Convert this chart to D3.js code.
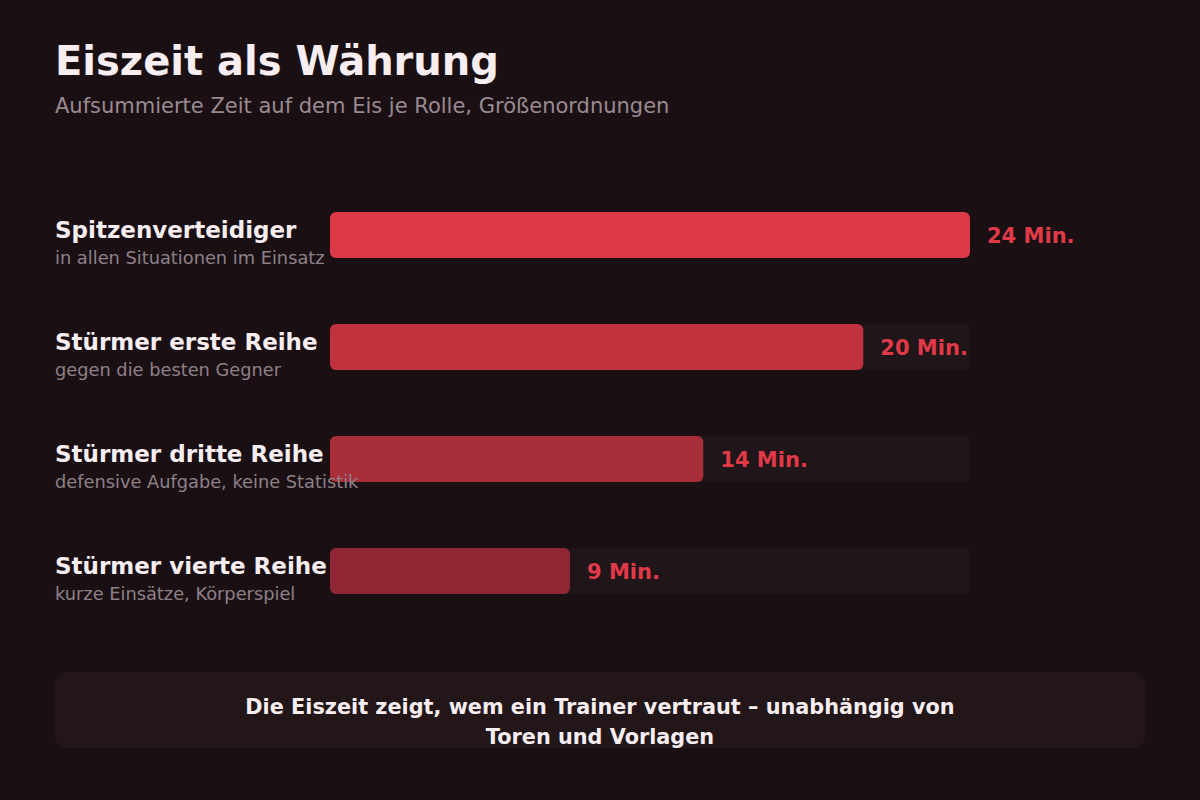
<!DOCTYPE html>
<html><head><meta charset="utf-8">
<script src="https://cdn.jsdelivr.net/npm/d3@7"></script>
<style>
html,body{margin:0;padding:0;background:#1a1014;}
svg{display:block;font-family:"DejaVu Sans",sans-serif;}
</style></head>
<body><svg id="c" width="1200" height="800"></svg>
<script>
const roles = ["Spitzenverteidiger","Stürmer erste Reihe","Stürmer dritte Reihe","Stürmer vierte Reihe"];
const notes = ["in allen Situationen im Einsatz","gegen die besten Gegner","defensive Aufgabe, keine Statistik","kurze Einsätze, Körperspiel"];
const minutes = [24,20,14,9];
const barColors = ["#dc3947","#c1323f","#a72e39","#8e2733"];
const titleText = "Eiszeit als Währung";
const subtitleText = "Aufsummierte Zeit auf dem Eis je Rolle, Größenordnungen";
const footerText = "Die Eiszeit zeigt, wem ein Trainer vertraut – unabhängig von Toren und Vorlagen";

const svg = d3.select("#c");
svg.append("rect").attr("width",1200).attr("height",800).attr("fill","#1a1014");

svg.append("text").attr("x",55).attr("y",75).attr("fill","#f8eef1")
  .attr("font-size",40).attr("font-weight","bold").text(titleText);
svg.append("text").attr("x",55).attr("y",113).attr("fill","#9a8a90")
  .attr("font-size",21).text(subtitleText);

const x = d3.scaleLinear().domain([0, d3.max(minutes)]).range([330, 970]);
const y = d3.scaleBand().domain(roles).range([212, 594]).paddingInner(66/112).paddingOuter(0);
const data = roles.map((r,i)=>({role:r, note:notes[i], v:minutes[i], c:barColors[i]}));
const bh = y.bandwidth();

const g = svg.append("g");
g.selectAll("rect.track").data(data).join("rect").attr("class","track")
  .attr("x",x(0)).attr("y",d=>y(d.role)).attr("width",x.range()[1]-x(0)).attr("height",bh)
  .attr("rx",6).attr("fill","#201518");
g.selectAll("rect.bar").data(data).join("rect").attr("class","bar")
  .attr("x",x(0)).attr("y",d=>y(d.role)).attr("width",d=>x(d.v)-x(0)).attr("height",bh)
  .attr("rx",6).attr("fill",d=>d.c);
g.selectAll("text.val").data(data).join("text").attr("class","val")
  .attr("x",d=>x(d.v)+17).attr("y",d=>y(d.role)+bh/2+8)
  .attr("fill","#e03a48").attr("font-size",21).attr("font-weight","bold")
  .text(d=>d.v+" Min.");
g.selectAll("text.name").data(data).join("text").attr("class","name")
  .attr("x",55).attr("y",d=>y(d.role)+26)
  .attr("fill","#f8eef1").attr("font-size",23).attr("font-weight","bold").text(d=>d.role);
g.selectAll("text.note").data(data).join("text").attr("class","note")
  .attr("x",55).attr("y",d=>y(d.role)+52)
  .attr("fill","#8f8088").attr("font-size",17.8).text(d=>d.note);

svg.append("rect").attr("x",55).attr("y",672).attr("width",1090).attr("height",76)
  .attr("rx",12).attr("fill","#221619");
const ft = svg.append("text").attr("x",600).attr("y",714).attr("text-anchor","middle")
  .attr("fill","#f8eef1").attr("font-size",20.8).attr("font-weight","bold");
const words = footerText.split(" ");
let lines=[], cur="";
const meas = svg.append("text").attr("font-size",20.8).attr("font-weight","bold").attr("visibility","hidden");
words.forEach(w=>{
  const t = cur? cur+" "+w : w;
  meas.text(t);
  if (meas.node().getComputedTextLength() > 760 && cur){ lines.push(cur); cur=w; } else cur=t;
});
lines.push(cur); meas.remove();
lines.forEach((l,i)=>ft.append("tspan").attr("x",600).attr("dy",i?30:0).text(l));
</script></body></html>
